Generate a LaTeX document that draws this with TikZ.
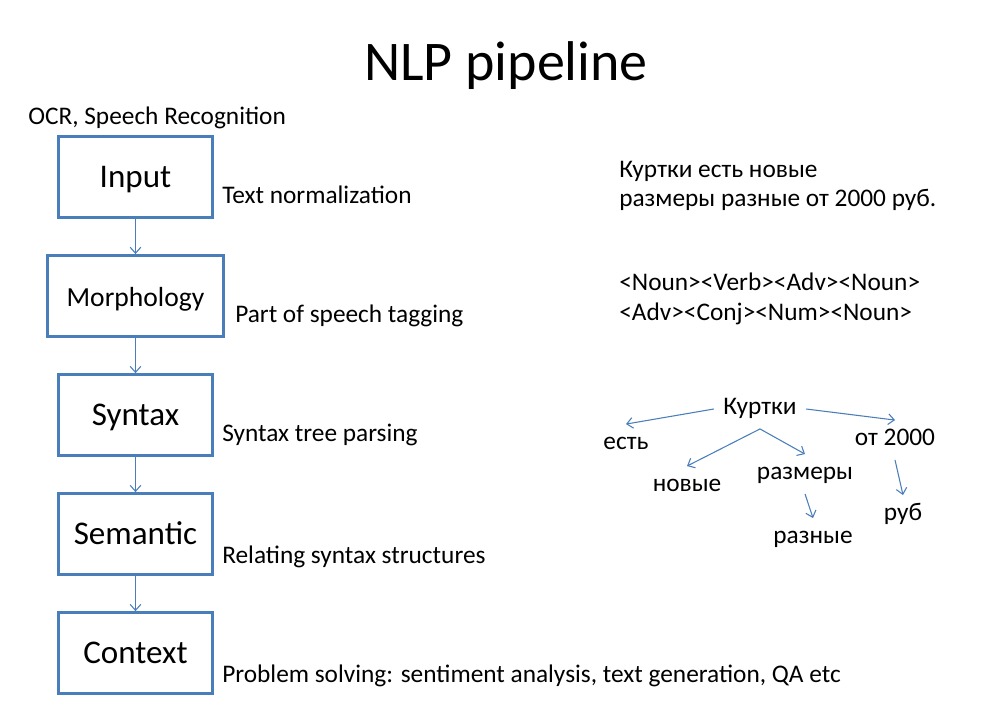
\documentclass[tikz,border=0pt]{standalone}
\usepackage{fontspec}
\setmainfont{Carlito}
\usepackage{tikz}
\usetikzlibrary{positioning}
\usetikzlibrary{arrows.meta}

\definecolor{boxblue}{RGB}{74,126,187}

\begin{document}
\begin{tikzpicture}[x=0.75pt,y=-0.75pt,>={Straight Barb[length=4.5pt,width=8pt]},
		node distance=89.25pt,
		stage node/.style={rectangle,draw=boxblue,line width=2.2pt,minimum width=115.1pt,
			minimum height=60.6pt,inner sep=0pt,text height=16pt,text depth=0pt,
			font=\fontsize{24.8}{28}\selectfont},
		note node/.style={anchor=base west,inner sep=0pt,font=\fontsize{19}{22}\selectfont},
		word node/.style={inner sep=7pt,text height=12pt,text depth=3.5pt,
			font=\fontsize{19}{22}\selectfont},
		flow/.style={->,draw=boxblue,line width=0.8pt}]
		
		\useasboundingbox (0,0) rectangle (994,718);
		
		\node[anchor=base,font=\fontsize{42}{46}\selectfont] (title) at (506,80) {NLP pipeline};
		
		% pipeline
		\node[stage node] (input) at (135.5,177) {Input};
		\node[stage node,minimum width=132pt,minimum height=60.75pt,
			font=\fontsize{20.7}{24}\selectfont] (morph) [below of=input] {Morphology};
		\node[stage node] (syntax) [below of=morph] {Syntax};
		\node[stage node] (semantic) [below of=syntax] {Semantic};
		\node[stage node] (context) [below of=semantic] {Context};
		
		\path[every edge/.style=flow]
		(input) edge (morph)
		(morph) edge (syntax)
		(syntax) edge (semantic)
		(semantic) edge (context);
		
		% notes beside the stages
		\node[note node] (ocr) at (28,124) {OCR, Speech Recognition};
		\node[note node] (norm) at (222,203) {Text normalization};
		\node[note node] (pos) at (235,322) {Part of speech tagging};
		\node[note node] (parse) at (222,441) {Syntax tree parsing};
		\node[note node] (relate) at (222,563) {Relating syntax structures};
		\node[note node] (solve) at (222,682) {Problem solving: sentiment analysis, text generation, QA etc};
		
		% example sentence
		\node[note node] (sent1) at (619,177) {Куртки есть новые};
		\node[note node] (sent2) at (619,206) {размеры разные от 2000 руб.};
		\node[note node] (tags1) at (619,290) {<Noun><Verb><Adv><Noun>};
		\node[note node] (tags2) at (619,320) {<Adv><Conj><Num><Noun>};
		
		% syntax tree
		\node[word node] (kurtki) at (760,409) {Куртки};
		\node[word node] (est) at (626,444) {есть};
		\node[word node] (novye) at (687,486) {новые};
		\node[word node] (razmery) at (805,474) {размеры};
		\node[word node] (ot) at (895,440) {от 2000};
		\node[word node] (raznye) at (813,538) {разные};
		\node[word node] (rub) at (903,515) {руб};
		
		\path[every edge/.style=flow]
		(kurtki.west) edge (est.north)
		(kurtki.south) edge (novye.north)
		(kurtki.south) edge (razmery.north)
		(kurtki.east) edge (ot.north)
		(razmery.south) edge (raznye.north)
		(ot.south) edge (rub.north);
		\end{tikzpicture}
\end{document}
